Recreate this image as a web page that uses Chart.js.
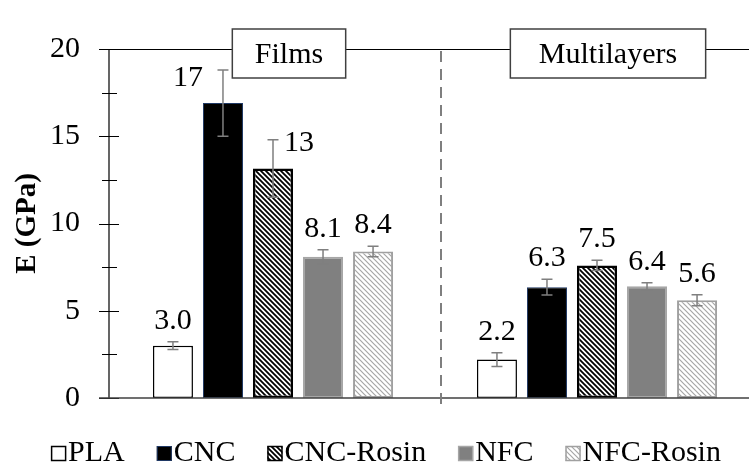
<!DOCTYPE html>
<html>
<head>
<meta charset="utf-8">
<script src="https://cdn.jsdelivr.net/npm/chart.js@4/dist/chart.umd.min.js"></script>
<style>
    body { margin: 0; background: #fff; overflow: hidden; }
    #wrap { width: 762px; height: 469px; }
</style>
</head>
<body>
<div id="wrap"><canvas id="modulusChart" width="762" height="469"></canvas></div>
<script>
// groups on the x axis and the five materials
const groups = ['Films', 'Multilayers'];
const series = ['PLA', 'CNC', 'CNC-Rosin', 'NFC', 'NFC-Rosin'];

// E (GPa) per material
const films = [3.0, 16.9, 13.15, 8.1, 8.4];
const multilayers = [2.2, 6.35, 7.6, 6.4, 5.6];
const filmsErr = [0.22, 1.9, 1.65, 0.4, 0.3];
const multilayersErr = [0.4, 0.45, 0.3, 0.2, 0.32];
const filmsLabels = ['3.0', '17', '13', '8.1', '8.4'];
const multilayersLabels = ['2.2', '6.3', '7.5', '6.4', '5.6'];
const yTicks = [0, 5, 10, 15, 20];

const FONT = '"Liberation Serif", "Times New Roman", serif';
Chart.defaults.font.family = FONT;
Chart.defaults.color = '#000';

function hatch(color, lineWidth) {
    const s = 5;
    const c = document.createElement('canvas');
    c.width = s; c.height = s;
    const g = c.getContext('2d');
    g.fillStyle = '#fff';
    g.fillRect(0, 0, s, s);
    g.strokeStyle = color;
    g.lineWidth = lineWidth;
    g.beginPath();
    g.moveTo(-1, -1); g.lineTo(s + 1, s + 1);
    g.moveTo(-1, s - 1); g.lineTo(1, s + 1);
    g.moveTo(s - 1, -1); g.lineTo(s + 1, 1);
    g.stroke();
    return document.getElementById('modulusChart').getContext('2d').createPattern(c, 'repeat');
}

const fills = ['#ffffff', '#000000', hatch('#000', 1.8), '#808080', hatch('#a6a6a6', 1.2)];
const borders = ['#000000', '#1f3864', '#000000', '#a6a6a6', '#a0a0a0'];
const borderWidths = [1.5, 1, 2.5, 2, 2];

const errs = series.map((s, i) => [filmsErr[i], multilayersErr[i]]);
const labels = series.map((s, i) => [filmsLabels[i], multilayersLabels[i]]);

// axis, header boxes, separator, error bars, labels, legend
const decorations = {
    id: 'decorations',
    afterDatasetsDraw(chart) {
        const ctx = chart.ctx;
        const area = chart.chartArea;
        const x = chart.scales.x;
        const y = chart.scales.y;
        const axisX = area.left - 2;
        const W = chart.width;
        ctx.save();

        // error bars
        ctx.strokeStyle = '#7f7f7f';
        ctx.lineWidth = 1.5;
        chart.data.datasets.forEach((ds, i) => {
            chart.getDatasetMeta(i).data.forEach((bar, j) => {
                const v = ds.data[j];
                const e = errs[i][j];
                const t = y.getPixelForValue(v + e);
                const b = y.getPixelForValue(v - e);
                ctx.beginPath();
                ctx.moveTo(bar.x, t); ctx.lineTo(bar.x, b);
                ctx.moveTo(bar.x - 5.5, t); ctx.lineTo(bar.x + 5.5, t);
                ctx.moveTo(bar.x - 5.5, b); ctx.lineTo(bar.x + 5.5, b);
                ctx.stroke();
            });
        });

        // value labels
        ctx.fillStyle = '#000';
        ctx.font = '30px ' + FONT;
        ctx.textBaseline = 'alphabetic';
        chart.data.datasets.forEach((ds, i) => {
            chart.getDatasetMeta(i).data.forEach((bar, j) => {
                const t = y.getPixelForValue(ds.data[j] + errs[i][j]);
                const txt = labels[i][j];
                if (i === 1 && j === 0) {
                    ctx.textAlign = 'right';
                    ctx.fillText(txt, bar.x - 20, t + 16);
                } else if (i === 2 && j === 0) {
                    ctx.textAlign = 'left';
                    ctx.fillText(txt, bar.x + 11, t + 11);
                } else {
                    ctx.textAlign = 'center';
                    ctx.fillText(txt, bar.x, t - 13);
                }
            });
        });

        // y axis with crossing ticks
        ctx.strokeStyle = '#000';
        ctx.lineWidth = 1.2;
        ctx.beginPath();
        ctx.moveTo(axisX, area.top); ctx.lineTo(axisX, area.bottom);
        for (let v = 0; v <= 20; v += 2.5) {
            const py = Math.round(y.getPixelForValue(v)) + 0.5;
            const major = v % 5 === 0;
            ctx.moveTo(axisX - (major ? 10 : 7), py);
            ctx.lineTo(axisX + (major ? 10 : 8), py);
        }
        ctx.stroke();

        // top line
        ctx.beginPath();
        ctx.moveTo(axisX - 10, area.top + 0.5); ctx.lineTo(W, area.top + 0.5);
        ctx.stroke();

        // baseline
        ctx.strokeStyle = '#404040';
        ctx.lineWidth = 1.5;
        ctx.beginPath();
        ctx.moveTo(axisX - 10, area.bottom); ctx.lineTo(W, area.bottom);
        ctx.stroke();

        // dashed separator between the groups
        const sepX = (x.getPixelForValue(0) + x.getPixelForValue(1)) / 2 + 6;
        ctx.strokeStyle = '#7f7f7f';
        ctx.lineWidth = 2;
        ctx.setLineDash([11, 7]);
        ctx.beginPath();
        ctx.moveTo(sepX, area.top + 2); ctx.lineTo(sepX, area.bottom + 7);
        ctx.stroke();
        ctx.setLineDash([]);

        // group header boxes
        ctx.font = '30px ' + FONT;
        ctx.textAlign = 'center';
        ctx.textBaseline = 'middle';
        groups.forEach((gname, k) => {
            const cx = x.getPixelForValue(k) + (k === 0 ? 16 : 11);
            const w = ctx.measureText(gname).width + (k === 0 ? 45 : 57);
            const top = area.top - 20;
            ctx.fillStyle = '#fff';
            ctx.fillRect(cx - w / 2, top, w, 49);
            ctx.strokeStyle = '#404040';
            ctx.lineWidth = 1.5;
            ctx.strokeRect(cx - w / 2, top, w, 49);
            ctx.fillStyle = '#000';
            ctx.fillText(gname, cx, top + 26);
        });

        // legend
        ctx.font = '30px ' + FONT;
        ctx.textAlign = 'left';
        ctx.textBaseline = 'alphabetic';
        const box = 15, gapText = 2, gapItem = 32;
        const widths = series.map(s => box + gapText + ctx.measureText(s).width);
        const total = widths.reduce((a, b) => a + b, 0) + gapItem * (series.length - 1);
        let lx = 386 - total / 2;
        const ly = 446;
        series.forEach((s, i) => {
            ctx.fillStyle = fills[i];
            ctx.fillRect(lx, ly, box, box);
            ctx.strokeStyle = borders[i];
            ctx.lineWidth = Math.min(borderWidths[i], 1.5);
            ctx.strokeRect(lx + 0.5, ly + 0.5, box - 1, box - 1);
            ctx.fillStyle = '#000';
            ctx.fillText(s, lx + box + gapText, ly + 15);
            lx += widths[i] + gapItem;
        });

        ctx.restore();
    }
};

new Chart(document.getElementById('modulusChart'), {
    type: 'bar',
    data: {
        labels: groups,
        datasets: series.map((s, i) => ({
            label: s,
            data: [films[i], multilayers[i]],
            backgroundColor: fills[i],
            borderColor: borders[i],
            borderWidth: borderWidths[i],
            borderSkipped: false,
            categoryPercentage: 0.772,
            barPercentage: 0.8
        }))
    },
    options: {
        responsive: false,
        animation: false,
        layout: { padding: { top: 30, bottom: 71, right: 3, left: 0 } },
        plugins: {
            legend: { display: false },
            tooltip: { enabled: false }
        },
        scales: {
            x: { display: false },
            y: {
                min: 0,
                max: 20,
                afterFit(scale) { scale.width = 111; },
                afterBuildTicks(scale) { scale.ticks = yTicks.map(v => ({ value: v })); },
                grid: { display: false, drawTicks: false },
                border: { display: false },
                ticks: { padding: 31, font: { size: 30 }, color: '#000' },
                title: {
                    display: true,
                    text: 'E (GPa)',
                    font: { size: 29, weight: 'bold' },
                    color: '#000',
                    padding: { top: 10, bottom: 0 }
                }
            }
        }
    },
    plugins: [decorations]
});
</script>
</body>
</html>
